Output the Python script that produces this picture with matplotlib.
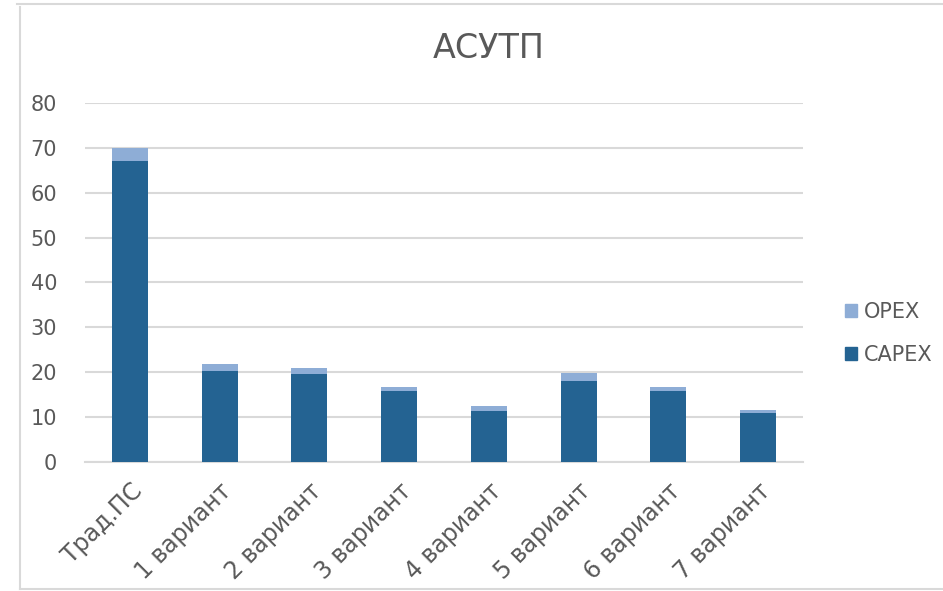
import matplotlib
matplotlib.use('Agg')
import matplotlib.pyplot as plt
from matplotlib.lines import Line2D
from matplotlib.patches import Patch

plt.rcParams['font.family'] = ['DejaVu Sans']

categories = ['Трад.ПС', '1 вариант', '2 вариант', '3 вариант',
              '4 вариант', '5 вариант', '6 вариант', '7 вариант']
capex = [67.1, 20.3, 19.6, 15.9, 11.4, 18.1, 15.9, 11.0]
opex = [2.9, 1.5, 1.3, 0.9, 1.1, 1.7, 0.9, 0.6]

capex_color = '#246392'
opex_color = '#8eadd6'
text_color = '#595959'
grid_color = '#d9d9d9'

fig = plt.figure(figsize=(9.43, 5.91), dpi=100)
ax = fig.add_axes([0.0901, 0.2183, 0.7614, 0.6074])

x = range(len(categories))
ax.bar(x, capex, width=0.4, color=capex_color, label='CAPEX', zorder=3)
ax.bar(x, opex, width=0.4, bottom=capex, color=opex_color, label='OPEX', zorder=3)

ax.set_xlim(-0.5, len(categories) - 0.5)
ax.set_ylim(0, 80)
ax.set_yticks(range(0, 81, 10))
ax.yaxis.grid(True, color=grid_color, linewidth=1.5, zorder=0)
ax.set_axisbelow(True)
for side in ['top', 'right', 'left']:
    ax.spines[side].set_visible(False)
ax.spines['bottom'].set_color(grid_color)
ax.spines['bottom'].set_linewidth(1.5)
ax.tick_params(axis='both', length=0, colors=text_color)
ax.tick_params(axis='y', pad=20, labelsize=15)
ax.tick_params(axis='x', pad=12, labelsize=17)
ax.set_xticks(list(x))
ax.set_xticklabels(categories, rotation=45, ha='right', rotation_mode='anchor')

fig.text(0.518, 0.918, 'АСУТП', ha='center', va='center', fontsize=24, color=text_color)

handles = [Patch(color=opex_color, label='OPEX'), Patch(color=capex_color, label='CAPEX')]
fig.legend(handles=handles, loc='center left', bbox_to_anchor=(0.896, 0.436),
           frameon=False, fontsize=15, labelcolor=text_color,
           handlelength=0.6, handleheight=0.6, handletextpad=0.3, labelspacing=1.1,
           borderaxespad=0, borderpad=0)

# рамка области диаграммы
border = dict(color='#d9d9d9', linewidth=1.5)
fig.add_artist(Line2D([17 / 943, 1], [1 - 4 / 591] * 2, **border))
fig.add_artist(Line2D([20 / 943] * 2, [1 - 7 / 591, 1 - 589 / 591], **border))
fig.add_artist(Line2D([20 / 943, 1], [1 - 589 / 591] * 2, **border))

fig.savefig('out.png', dpi=100)
